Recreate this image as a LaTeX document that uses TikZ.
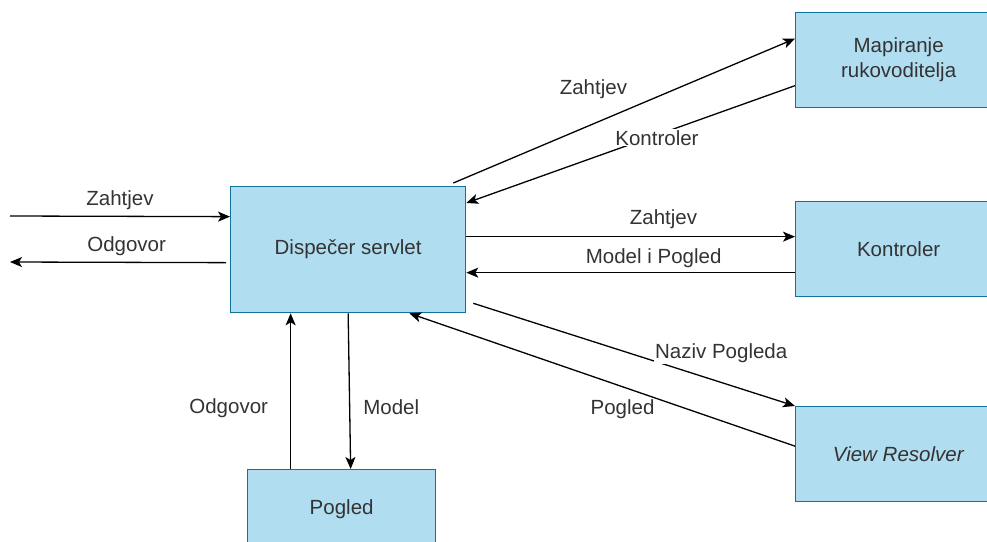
\documentclass[tikz,border=0pt]{standalone}
\usepackage{fontspec}
\setmainfont{Liberation Sans}
\usetikzlibrary{positioning, arrows.meta}
\definecolor{boxfill}{HTML}{B1DDF0}
\definecolor{boxline}{HTML}{10739E}
\definecolor{txt}{HTML}{333333}
\tikzset{
->, % makes the edges directed
>={Stealth[length=12pt, width=10pt, inset=3pt]}, % arrow heads like the drawing
x=1pt, y=1pt, % one unit is one pixel of the drawing
every node/.style={font=\fontsize{20.5}{25}\selectfont, text=txt},
block/.style={draw=boxline, fill=boxfill, minimum width=206pt, minimum height=95pt, inner sep=0pt, anchor=north west, align=center}, % the blue boxes
tag/.style={inner sep=1pt}, % plain edge text
tagw/.style={tag, fill=white}, % edge text that cuts the line
}

\begin{document}
\begin{tikzpicture}[line width=1.3pt]
    \clip (0,0) rectangle (987,-541);
    \node[block, minimum width=235pt, minimum height=126pt] (disp) at (230,-186) {Dispečer servlet};
    \node[block] (mapa) at (795,-12) {Mapiranje\\rukovoditelja};
    \node[block] (kont) at (795,-201) {Kontroler};
    \node[block] (vres) at (795,-406) {\textit{View Resolver}};
    \node[block, minimum width=188pt, minimum height=80pt] (pogl) at (247,-469) {Pogled};
    \coordinate (inA) at (10,-216);
    \coordinate (outA) at (10,-262);
    \path
    (inA) edge node[tag, above=5pt]{Zahtjev} ([yshift=33pt]disp.west)
    ([xshift=-4pt, yshift=-13pt]disp.west) edge node[tag, pos=0.46, above=4.5pt]{Odgovor} (outA)
    ([xshift=-13pt, yshift=3pt]disp.north east) edge node[tag, pos=0.41, above=23pt]{Zahtjev} ([yshift=21.5pt]mapa.west)
    ([yshift=-25.5pt]mapa.west) edge node[tagw, pos=0.42, yshift=-3pt]{Kontroler} ([yshift=-17pt]disp.north east)
    ([yshift=13pt]disp.east) edge node[tag, pos=0.6, above=6pt]{Zahtjev} ([yshift=12.5pt]kont.west)
    ([yshift=-23.5pt]kont.west) edge node[tag, pos=0.43, above=3pt]{Model i Pogled} ([yshift=-23pt]disp.east)
    ([xshift=7pt, yshift=10pt]disp.south east) edge node[tagw, pos=0.56, anchor=south west, yshift=-4pt]{Naziv Pogleda} (vres.north west)
    ([yshift=8pt]vres.west) edge node[tagw, pos=0.36, anchor=north east]{Pogled} ([xshift=-57pt]disp.south east)
    ([xshift=-51pt]pogl.north) edge node[tag, pos=0.39, left=21pt]{Odgovor} ([xshift=-51pt]pogl.north |- disp.south)
    (disp.south) edge node[tag, pos=0.6, right=12pt]{Model} ([xshift=9pt]pogl.north);
\end{tikzpicture}
\end{document}
